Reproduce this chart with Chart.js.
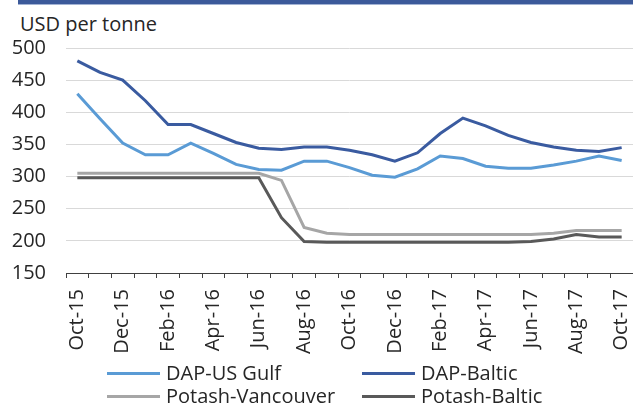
<!DOCTYPE html>
<html>
<head>
<meta charset="utf-8">
<script src="https://cdn.jsdelivr.net/npm/chart.js@4"></script>
<style>
  body { margin: 0; width: 633px; height: 408px; background: #fff; position: relative; overflow: hidden; font-family: "Open Sans", sans-serif; color: #262626; }
  #banner { position: absolute; left: 18px; top: 0; width: 615px; height: 4px; background: #3c5a9a; border-bottom: 1px solid #a3b3d4; }
  #unit { position: absolute; left: 20px; top: 14px; font-size: 20px; line-height: 20px; }
  #wrap { position: absolute; left: 0; top: 0; width: 633px; height: 364px; }
  .leg { position: absolute; font-size: 20px; line-height: 20px; white-space: nowrap; }
  .leg span.swatch { position: absolute; left: 0; top: 9px; width: 53px; height: 3px; }
  .leg span.txt { position: absolute; left: 59px; top: 0; }
</style>
</head>
<body>
<div id="banner"></div>
<div id="unit">USD per tonne</div>
<div id="wrap"><canvas id="chart"></canvas></div>
<div id="legend"></div>
<script>
// months, Oct-15 to Oct-17
var months = ['Oct-15','Nov-15','Dec-15','Jan-16','Feb-16','Mar-16','Apr-16','May-16','Jun-16','Jul-16','Aug-16','Sep-16',
              'Oct-16','Nov-16','Dec-16','Jan-17','Feb-17','Mar-17','Apr-17','May-17','Jun-17','Jul-17','Aug-17','Sep-17','Oct-17'];

var dapUsGulf = [429, 390, 352, 334, 334, 352, 336, 319, 311, 310, 324, 324, 314, 302, 299, 312, 332, 328, 316, 313, 313, 318, 324, 332, 325];
var dapBaltic = [480, 462, 450, 418, 381, 381, 367, 353, 344, 342, 346, 346, 341, 334, 324, 337, 367, 391, 379, 364, 353, 346, 341, 339, 345];
var potashVancouver = [305, 305, 305, 305, 305, 305, 305, 305, 305, 294, 221, 212, 210, 210, 210, 210, 210, 210, 210, 210, 210, 212, 216, 216, 216];
var potashBaltic = [298, 298, 298, 298, 298, 298, 298, 298, 298, 236, 199, 198, 198, 198, 198, 198, 198, 198, 198, 198, 199, 203, 210, 206, 206];

var seriesNames = ['DAP-US Gulf', 'DAP-Baltic', 'Potash-Vancouver', 'Potash-Baltic'];
var seriesColors = ['#5a9bd5', '#3a5ba0', '#a6a6a6', '#595959'];
var yTicks = [150, 200, 250, 300, 350, 400, 450, 500];

var font = { family: '"Open Sans", sans-serif', size: 20 };

function makeSet(idx, values) {
  return {
    label: seriesNames[idx],
    data: values,
    borderColor: seriesColors[idx],
    backgroundColor: seriesColors[idx],
    borderWidth: 3,
    pointRadius: 0,
    tension: 0,
    fill: false
  };
}

var ctx = document.getElementById('chart').getContext('2d');
var chart = new Chart(ctx, {
  type: 'line',
  data: {
    labels: months,
    datasets: [
      makeSet(3, potashBaltic),
      makeSet(2, potashVancouver),
      makeSet(0, dapUsGulf),
      makeSet(1, dapBaltic)
    ]
  },
  options: {
    responsive: true,
    maintainAspectRatio: false,
    animation: false,
    layout: { padding: { top: 48, left: 0, right: 0, bottom: 0 } },
    plugins: { legend: { display: false }, tooltip: { enabled: false } },
    scales: {
      x: {
        offset: true,
        grid: { offset: true, drawOnChartArea: false, drawTicks: true, tickLength: 5, color: '#404040' },
        border: { display: true, color: '#404040', width: 1 },
        ticks: {
          autoSkip: false, maxRotation: 90, minRotation: 90, padding: 11,
          color: '#262626', font: font,
          callback: function(v, i) { return i % 2 === 0 ? months[i] : ''; }
        },
        afterFit: function(s) { s.height = 91; s.paddingLeft = 0; s.paddingRight = 0; }
      },
      y: {
        min: 150, max: 500,
        afterBuildTicks: function(s) { s.ticks = yTicks.map(function(v){ return { value: v }; }); },
        grid: { color: '#d9d9d9', lineWidth: 1, drawTicks: false },
        border: { display: false },
        ticks: { padding: 20, color: '#262626', font: font },
        afterFit: function(s) { s.width = 66; }
      }
    }
  }
});

// legend in two columns under the chart
var legPos = [[107, 363], [362, 363], [107, 386], [362, 386]];
var legHtml = '';
for (var i = 0; i < seriesNames.length; i++) {
  legHtml += '<div class="leg" style="left:' + legPos[i][0] + 'px;top:' + legPos[i][1] + 'px">' +
    '<span class="swatch" style="background:' + seriesColors[i] + '"></span>' +
    '<span class="txt">' + seriesNames[i] + '</span></div>';
}
document.getElementById('legend').innerHTML = legHtml;
</script>
</body>
</html>
